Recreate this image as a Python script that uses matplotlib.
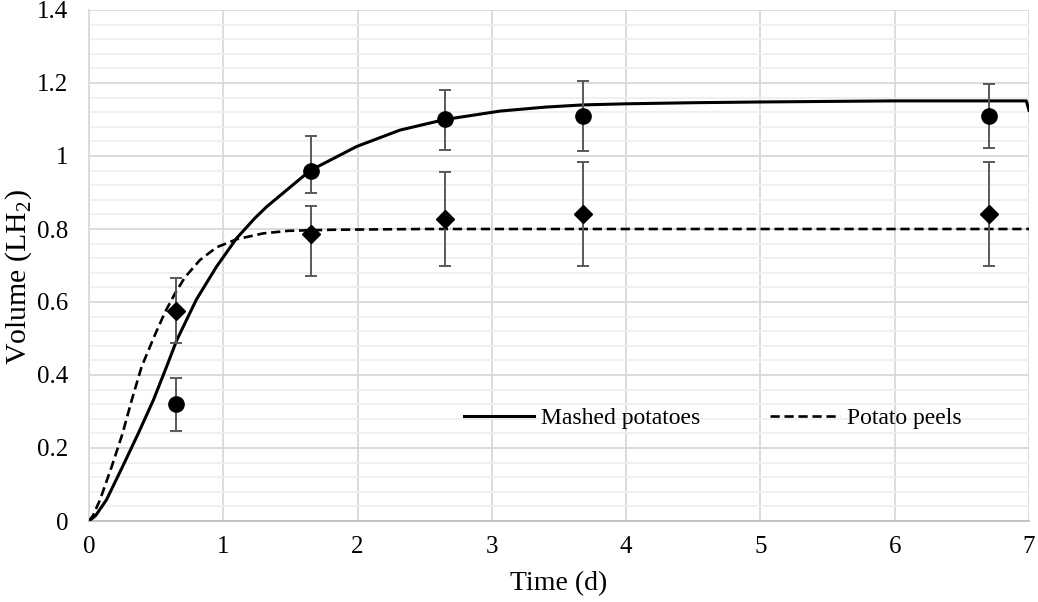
import matplotlib
matplotlib.use('Agg')
import matplotlib.pyplot as plt
from matplotlib.ticker import MultipleLocator, FuncFormatter

plt.rcParams['font.family'] = ['Liberation Serif', 'DejaVu Serif']
plt.rcParams['mathtext.fontset'] = 'custom'
plt.rcParams['mathtext.rm'] = 'Liberation Serif'

# measured points
t_meas = [0.65, 1.65, 2.65, 3.68, 6.70]
mashed_y = [0.32, 0.96, 1.10, 1.11, 1.11]
mashed_hi = [0.393, 1.056, 1.182, 1.205, 1.196]
mashed_lo = [0.247, 0.900, 1.016, 1.015, 1.023]
peels_y = [0.575, 0.786, 0.828, 0.842, 0.842]
peels_hi = [0.665, 0.863, 0.957, 0.984, 0.984]
peels_lo = [0.487, 0.672, 0.700, 0.700, 0.700]

# fitted curves
mashed_fit_t = [0.0, 0.05, 0.13, 0.25, 0.367, 0.479, 0.578, 0.653, 0.80, 0.95,
                1.10, 1.236, 1.323, 1.646, 1.993, 2.316, 2.651, 3.06, 3.4,
                3.68, 4.0, 4.5, 5.0, 6.0, 6.98, 7.0]
mashed_fit_y = [0.0, 0.015, 0.058, 0.149, 0.24, 0.331, 0.423, 0.495, 0.607, 0.697,
                0.775, 0.83, 0.861, 0.96, 1.026, 1.071, 1.10, 1.123, 1.134,
                1.14, 1.143, 1.146, 1.148, 1.151, 1.151, 1.125]
peels_fit_t = [0.0, 0.03, 0.082, 0.169, 0.25, 0.318, 0.392, 0.491, 0.566, 0.64,
               0.715, 0.826, 0.951, 1.10, 1.298, 1.484, 1.82, 2.5, 7.0]
peels_fit_y = [0.0, 0.015, 0.058, 0.149, 0.24, 0.331, 0.423, 0.51, 0.572, 0.623,
               0.668, 0.715, 0.75, 0.772, 0.788, 0.795, 0.798, 0.80, 0.80]

fig = plt.figure(figsize=(10.38, 6.02), dpi=100)
ax = fig.add_axes([89 / 1038, 1 - 521 / 602, 940 / 1038, 511 / 602])

ax.plot(mashed_fit_t, mashed_fit_y, color='black', lw=2.2, label='Mashed potatoes',
        solid_joinstyle='round', zorder=3)
ax.plot(peels_fit_t, peels_fit_y, color='black', lw=1.9, dashes=(3.5, 1.8),
        label='Potato peels', zorder=3)

err_m = [[y - lo for y, lo in zip(mashed_y, mashed_lo)],
         [hi - y for y, hi in zip(mashed_y, mashed_hi)]]
err_p = [[y - lo for y, lo in zip(peels_y, peels_lo)],
         [hi - y for y, hi in zip(peels_y, peels_hi)]]
ax.errorbar(t_meas, mashed_y, yerr=err_m, fmt='o', color='black', ms=11,
            ecolor='#595959', elinewidth=1.4, capsize=4.4, capthick=1.4, zorder=4)
ax.errorbar(t_meas, peels_y, yerr=err_p, fmt='D', color='black', ms=9.2,
            ecolor='#595959', elinewidth=1.4, capsize=4.4, capthick=1.4, zorder=4)

ax.set_xlim(0, 7)
ax.set_ylim(0, 1.4)
ax.xaxis.set_major_locator(MultipleLocator(1))
ax.yaxis.set_major_locator(MultipleLocator(0.2))
ax.yaxis.set_minor_locator(MultipleLocator(0.04))
ax.yaxis.set_major_formatter(FuncFormatter(lambda v, p: '{:g}'.format(round(v, 2))))
ax.grid(which='major', color='#d9d9d9', lw=1.3)
ax.grid(which='minor', axis='y', color='#efefef', lw=1.3)
ax.set_axisbelow(True)
ax.tick_params(which='both', length=0, labelsize=18)
ax.tick_params(axis='x', pad=11)
ax.tick_params(axis='y', pad=15)
for s in ['top', 'right']:
    ax.spines[s].set_visible(False)
ax.spines['left'].set_color('#d9d9d9')
ax.spines['bottom'].set_color('#bfbfbf')
ax.spines['left'].set_linewidth(1.3)
ax.spines['bottom'].set_linewidth(1.3)

ax.set_xlabel('Time (d)', fontsize=20, labelpad=9)
ax.set_ylabel('Volume (LH$_2$)', fontsize=21.5)
ax.yaxis.set_label_coords(-0.059, 0.477)

leg = ax.legend(loc='center', bbox_to_anchor=(713 / 1038, 1 - 418 / 602),
                bbox_transform=fig.transFigure, ncol=2, frameon=False,
                fontsize=17, handlelength=2.96, columnspacing=2.96,
                handletextpad=0.3)

fig.savefig('out.png', dpi=100)
